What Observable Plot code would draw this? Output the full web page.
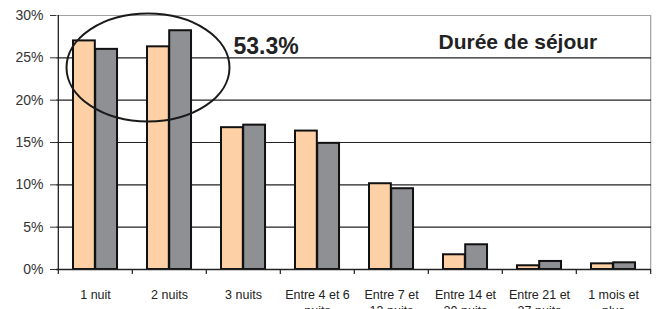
<!DOCTYPE html>
<html>
<head>
<meta charset="utf-8">
<script src="https://cdn.jsdelivr.net/npm/d3@7"></script>
<script src="https://cdn.jsdelivr.net/npm/@observablehq/plot@0.6"></script>
<style>
  html, body { margin: 0; padding: 0; background: #fff; }
  svg { font-family: "Liberation Sans", Arial, sans-serif; }
</style>
</head>
<body>
<div id="chart"></div>
<script>
const categories = ["1 nuit", "2 nuits", "3 nuits", "Entre 4 et 6 nuits", "Entre 7 et 13 nuits", "Entre 14 et 20 nuits", "Entre 21 et 27 nuits", "1 mois et plus"];
const tickLabels = ["1 nuit", "2 nuits", "3 nuits", "Entre 4 et 6\nnuits", "Entre 7 et\n13 nuits", "Entre 14 et\n20 nuits", "Entre 21 et\n27 nuits", "1 mois et\nplus"];
const seriesA = [27.0, 26.3, 16.75, 16.35, 10.13, 1.74, 0.44, 0.67];
const seriesB = [26.0, 28.2, 17.05, 14.9, 9.54, 2.92, 0.95, 0.79];
const yTicks = [0, 5, 10, 15, 20, 25, 30];
const annotation = "53.3%";
const title = "Durée de séjour";

const W = 660, H = 309, ML = 56, MR = 9, MT = 15, MB = 40;
const step = (W - ML - MR) / categories.length;

const dataA = categories.map((c, i) => ({cat: c, v: seriesA[i]}));
const dataB = categories.map((c, i) => ({cat: c, v: seriesB[i]}));

const ellipseMark = (index, scales) => {
  const cx = scales.x("2 nuits") + 16;
  const cy = scales.y(23.8);
  const e = document.createElementNS("http://www.w3.org/2000/svg", "ellipse");
  e.setAttribute("cx", cx);
  e.setAttribute("cy", cy);
  e.setAttribute("rx", 81.5);
  e.setAttribute("ry", 54);
  e.setAttribute("fill", "none");
  e.setAttribute("stroke", "#1a1a1a");
  e.setAttribute("stroke-width", 2);
  return e;
};

const chart = Plot.plot({
  width: W,
  height: H,
  marginLeft: ML,
  marginRight: MR,
  marginTop: MT,
  marginBottom: MB,
  style: {fontFamily: "'Liberation Sans', Arial, sans-serif", background: "#fff"},
  x: {domain: categories, padding: 0, axis: null},
  y: {domain: [0, 30], axis: null},
  marks: [
    // top border and right border (light gray)
    Plot.ruleY([30], {stroke: "#a0a0a0", strokeWidth: 1.2}),
    Plot.ruleX([categories[categories.length - 1]], {dx: step / 2, y1: 0, y2: 30, stroke: "#a0a0a0", strokeWidth: 1.2}),
    // gridlines
    Plot.ruleY(yTicks.filter(d => d > 0 && d < 30), {stroke: "#222", strokeWidth: 1.2}),
    // y axis ticks and labels
    Plot.axisY({ticks: yTicks, tickFormat: d => d + "%", tickSize: 6, tickPadding: 7, fontSize: 14, color: "#333", stroke: "#333", label: null}),
    // bars
    Plot.barY(dataA, {x: "cat", y: "v", fill: "#fdd0a6", stroke: "#111", strokeWidth: 2, insetLeft: 15, insetRight: step - 15 - 22.2}),
    Plot.barY(dataB, {x: "cat", y: "v", fill: "#8f9094", stroke: "#111", strokeWidth: 2, insetLeft: 15 + 22.2, insetRight: step - 15 - 44.4}),
    // axis lines
    Plot.ruleY([0], {stroke: "#222", strokeWidth: 1.3}),
    Plot.ruleX([categories[0]], {dx: -step / 2, y1: 0, y2: 30, stroke: "#222", strokeWidth: 1.3}),
    // x tick marks at category boundaries
    Plot.ruleX(categories, {x: d => d, dx: -step / 2, y1: 0, y2: -0.6, stroke: "#222", strokeWidth: 1.2}),
    Plot.ruleX([categories[categories.length - 1]], {dx: step / 2, y1: 0, y2: -0.6, stroke: "#222", strokeWidth: 1.2}),
    // x labels
    Plot.text(categories, {x: d => d, y: 0, text: (d, i) => tickLabels[i], lineAnchor: "top", dy: 17.5, fontSize: 12.5, lineHeight: 1.33, fill: "#222"}),
    // ellipse annotation
    ellipseMark,
    Plot.text([annotation], {frameAnchor: "top-left", dx: 233 - ML, dy: 22, textAnchor: "start", fontSize: 23, fontWeight: "bold", fill: "#222"}),
    Plot.text([title], {frameAnchor: "top-left", dx: 438 - ML, dy: 18.4, textAnchor: "start", fontSize: 21, fontWeight: "bold", fill: "#222"})
  ]
});
document.getElementById("chart").appendChild(chart);
</script>
</body>
</html>
